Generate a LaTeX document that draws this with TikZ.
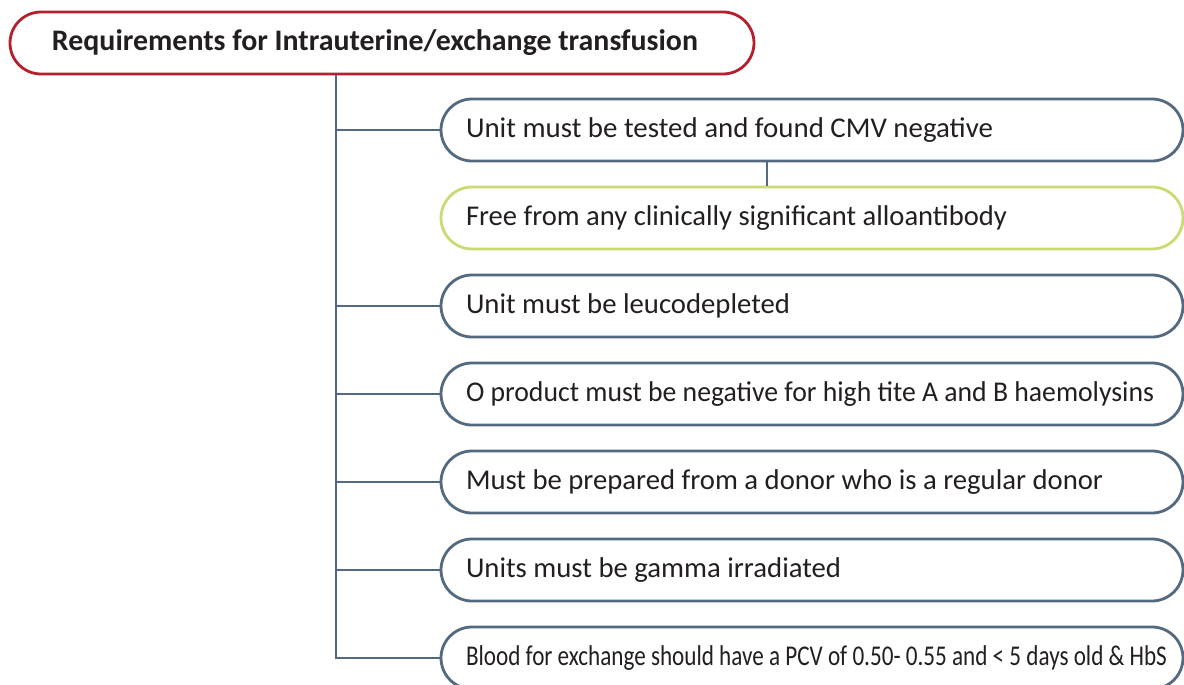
\documentclass[tikz,border=0pt]{standalone}
\usepackage{fontspec}
\setmainfont{Carlito}
\definecolor{slate}{HTML}{52697F}
\definecolor{lime}{HTML}{C9DB72}
\definecolor{crimson}{HTML}{B51F2E}
\definecolor{ink}{HTML}{231F20}
\begin{document}
\begin{tikzpicture}[x=1pt,y=-1pt,
  pill/.style={draw=slate, line width=2.8pt, rounded corners=31pt, fill=white,
    minimum width=742pt, minimum height=62pt, inner sep=0pt, text=ink,
    font=\fontsize{28.6}{32}\selectfont},
  limepill/.style={pill, draw=lime},
  headpill/.style={draw=crimson, line width=2.8pt, rounded corners=31pt, fill=white,
    minimum width=744pt, minimum height=62pt, inner sep=0pt, text=ink,
    font=\fontsize{29.8}{34}\selectfont\bfseries},
  link/.style={draw=slate, line width=2.8pt}
]
\useasboundingbox (0,0) rectangle (1184,685);

% text set to a given width, left aligned in a 692pt slot
\newcommand{\reqtext}[2]{\makebox[692pt][l]{\resizebox{#1pt}{\height}{#2}}}

% heading
\node[headpill] (head) at (382,43) {\makebox[0pt][c]{\hspace*{-14pt}\resizebox{646pt}{\height}{Requirements for Intrauterine/exchange transfusion}}};

% requirement boxes
\node[pill]     (b1) at (812,130) {\reqtext{527}{Unit must be tested and found CMV negative}};
\node[limepill] (b2) at (812,218) {\reqtext{541}{Free from any clinically significant alloantibody}};
\node[pill]     (b3) at (812,306) {\reqtext{324}{Unit must be leucodepleted}};
\node[pill]     (b4) at (812,394) {\reqtext{688}{O product must be negative for high tite A and B haemolysins}};
\node[pill]     (b5) at (812,482) {\reqtext{637}{Must be prepared from a donor who is a regular donor}};
\node[pill]     (b6) at (812,570) {\reqtext{375}{Units must be gamma irradiated}};
\node[pill]     (b7) at (812,658) {\reqtext{701}{Blood for exchange should have a PCV of 0.50- 0.55 and < 5 days old \& HbS}};

% trunk and branches
\coordinate (trunk) at (336,0);
\coordinate (tie) at (767,0);
\draw[link] (head.south -| trunk) |- (b7.west);
\foreach \b in {b1,b3,b4,b5,b6}
  \draw[link] (trunk |- \b.west) -- (\b.west);
\draw[link] (b1.south -| tie) -- (b2.north -| tie);
\end{tikzpicture}
\end{document}
